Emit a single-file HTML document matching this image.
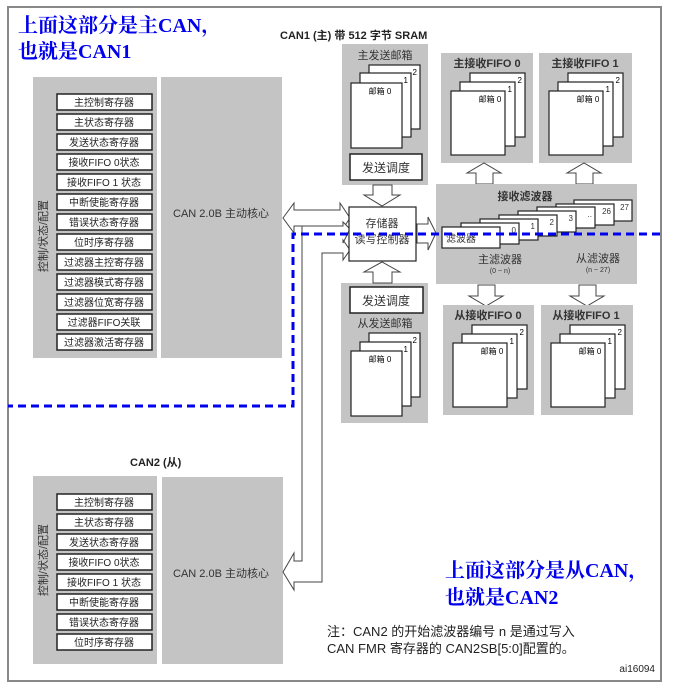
<!DOCTYPE html>
<html><head><meta charset="utf-8"><style>
html,body{margin:0;padding:0;background:#fff;}
svg{display:block;font-family:"Liberation Sans","Noto Sans CJK SC",sans-serif;}
.g{fill:#c4c4c4;}
.w{fill:#fff;stroke:#222;stroke-width:1.2;}
.rb{fill:#fff;stroke:#222;stroke-width:1.5;}
.t{font-size:10px;fill:#222;}
.ar{fill:#fff;stroke:#444;stroke-width:1;}
.bl{font-family:"Liberation Serif","Noto Serif CJK SC",serif;font-weight:bold;font-size:20px;fill:#0000ee;}
</style></head><body>
<svg width="675" height="696" viewBox="0 0 675 696">
<rect x="8" y="7" width="653" height="674" fill="#fff" stroke="#888" stroke-width="2"/>
<text class="bl" x="18" y="32">上面这部分是主CAN，</text>
<text class="bl" x="18" y="58">也就是CAN1</text>
<text x="280" y="39" font-size="11" font-weight="bold" fill="#222">CAN1 (主) 带 512 字节 SRAM</text>

<!-- CAN1 left -->
<rect class="g" x="33" y="77" width="124" height="281"/>
<rect class="g" x="161" y="77" width="121" height="281"/>
<text transform="translate(47,236) rotate(-90)" text-anchor="middle" font-size="11" fill="#333">控制/状态/配置</text>
<g class="t" text-anchor="middle">
<rect class="rb" x="57" y="94" width="95" height="16"/><text x="104" y="106">主控制寄存器</text>
<rect class="rb" x="57" y="114" width="95" height="16"/><text x="104" y="126">主状态寄存器</text>
<rect class="rb" x="57" y="134" width="95" height="16"/><text x="104" y="146">发送状态寄存器</text>
<rect class="rb" x="57" y="154" width="95" height="16"/><text x="104" y="166">接收FIFO 0状态</text>
<rect class="rb" x="57" y="174" width="95" height="16"/><text x="104" y="186">接收FIFO 1 状态</text>
<rect class="rb" x="57" y="194" width="95" height="16"/><text x="104" y="206">中断使能寄存器</text>
<rect class="rb" x="57" y="214" width="95" height="16"/><text x="104" y="226">错误状态寄存器</text>
<rect class="rb" x="57" y="234" width="95" height="16"/><text x="104" y="246">位时序寄存器</text>
<rect class="rb" x="57" y="254" width="95" height="16"/><text x="104" y="266">过滤器主控寄存器</text>
<rect class="rb" x="57" y="274" width="95" height="16"/><text x="104" y="286">过滤器模式寄存器</text>
<rect class="rb" x="57" y="294" width="95" height="16"/><text x="104" y="306">过滤器位宽寄存器</text>
<rect class="rb" x="57" y="314" width="95" height="16"/><text x="104" y="326">过滤器FIFO关联</text>
<rect class="rb" x="57" y="334" width="95" height="16"/><text x="104" y="346">过滤器激活寄存器</text>
</g>
<text x="221" y="217" text-anchor="middle" font-size="11" fill="#333">CAN 2.0B 主动核心</text>

<!-- CAN2 left -->
<text x="130" y="466" font-size="11" font-weight="bold" fill="#222">CAN2 (从)</text>
<rect class="g" x="33" y="476" width="124" height="188"/>
<rect class="g" x="162" y="477" width="121" height="187"/>
<text transform="translate(47,560) rotate(-90)" text-anchor="middle" font-size="11" fill="#333">控制/状态/配置</text>
<g class="t" text-anchor="middle">
<rect class="rb" x="57" y="494" width="95" height="16"/><text x="104" y="506">主控制寄存器</text>
<rect class="rb" x="57" y="514" width="95" height="16"/><text x="104" y="526">主状态寄存器</text>
<rect class="rb" x="57" y="534" width="95" height="16"/><text x="104" y="546">发送状态寄存器</text>
<rect class="rb" x="57" y="554" width="95" height="16"/><text x="104" y="566">接收FIFO 0状态</text>
<rect class="rb" x="57" y="574" width="95" height="16"/><text x="104" y="586">接收FIFO 1 状态</text>
<rect class="rb" x="57" y="594" width="95" height="16"/><text x="104" y="606">中断使能寄存器</text>
<rect class="rb" x="57" y="614" width="95" height="16"/><text x="104" y="626">错误状态寄存器</text>
<rect class="rb" x="57" y="634" width="95" height="16"/><text x="104" y="646">位时序寄存器</text>
</g>
<text x="221" y="577" text-anchor="middle" font-size="11" fill="#333">CAN 2.0B 主动核心</text>

<!-- CAN1 double arrow -->
<polygon class="ar" points="283,218 294,203 294,210 340,210 340,203 350,218 340,233 340,226 294,226 294,233"/>
<!-- CAN2 fat L arrow -->
<polygon class="ar" points="350,229 343,222 343,226 302,226 302,561 294,561 294,553 283,572 294,590 294,582 322,582 322,253 343,253 343,260 350,250 343,240 343,243"/>

<!-- controller -->
<rect class="w" x="349" y="207" width="67" height="54"/>
<text x="382" y="227" text-anchor="middle" font-size="11" fill="#333">存储器</text>
<text x="382" y="243" text-anchor="middle" font-size="11" fill="#333">读写控制器</text>

<!-- master send mailbox -->
<rect class="g" x="342" y="44" width="86" height="141"/>
<text x="385" y="59" text-anchor="middle" font-size="11" fill="#333">主发送邮箱</text>
<rect class="w" x="369" y="65" width="51" height="64"/><text x="417" y="75" font-size="8" text-anchor="end">2</text>
<rect class="w" x="360" y="73" width="51" height="64"/><text x="408" y="83" font-size="8" text-anchor="end">1</text>
<rect class="w" x="351" y="83" width="51" height="65"/><text x="380" y="94" font-size="8" text-anchor="middle">邮箱 0</text>
<rect class="rb" x="350" y="154" width="72" height="26"/>
<text x="386" y="172" text-anchor="middle" font-size="12" fill="#333">发送调度</text>
<polygon class="ar" points="373,185 392,185 392,195 400,195 382,206 364,195 373,195"/>

<!-- slave send mailbox -->
<rect class="g" x="341" y="283" width="87" height="140"/>
<rect class="rb" x="350" y="287" width="73" height="26"/>
<text x="386" y="305" text-anchor="middle" font-size="12" fill="#333">发送调度</text>
<text x="385" y="327" text-anchor="middle" font-size="11" fill="#333">从发送邮箱</text>
<rect class="w" x="369" y="333" width="51" height="64"/><text x="417" y="343" font-size="8" text-anchor="end">2</text>
<rect class="w" x="360" y="342" width="51" height="64"/><text x="408" y="352" font-size="8" text-anchor="end">1</text>
<rect class="w" x="351" y="351" width="51" height="65"/><text x="380" y="362" font-size="8" text-anchor="middle">邮箱 0</text>
<polygon class="ar" points="373,283 392,283 392,272 400,272 382,262 364,272 373,272"/>

<!-- arrow to filter -->
<polygon class="ar" points="417,224 428,224 428,217 436,233 428,250 428,243 417,243"/>

<!-- master FIFOs -->
<rect class="g" x="441" y="53" width="92" height="110"/>
<text x="487" y="67" text-anchor="middle" font-size="11" font-weight="bold" fill="#333">主接收FIFO 0</text>
<rect class="w" x="470" y="73" width="55" height="64"/><text x="522" y="83" font-size="8" text-anchor="end">2</text>
<rect class="w" x="460" y="82" width="55" height="64"/><text x="512" y="92" font-size="8" text-anchor="end">1</text>
<rect class="w" x="451" y="91" width="54" height="64"/><text x="490" y="102" font-size="8" text-anchor="middle">邮箱 0</text>
<rect class="g" x="539" y="53" width="93" height="110"/>
<text x="585" y="67" text-anchor="middle" font-size="11" font-weight="bold" fill="#333">主接收FIFO 1</text>
<rect class="w" x="568" y="73" width="55" height="64"/><text x="620" y="83" font-size="8" text-anchor="end">2</text>
<rect class="w" x="558" y="82" width="55" height="64"/><text x="610" y="92" font-size="8" text-anchor="end">1</text>
<rect class="w" x="549" y="91" width="54" height="64"/><text x="588" y="102" font-size="8" text-anchor="middle">邮箱 0</text>
<polygon class="ar" points="476,184 493,184 493,173 501,173 484,163 467,173 476,173"/>
<polygon class="ar" points="576,184 593,184 593,173 601,173 584,163 567,173 576,173"/>

<!-- filter -->
<rect class="g" x="436" y="184" width="201" height="100"/>
<text x="525" y="200" text-anchor="middle" font-size="11" font-weight="bold" fill="#333">接收滤波器</text>
<g font-size="8" fill="#333" text-anchor="end">
<rect class="w" x="574" y="200" width="58" height="21"/><text x="629" y="210">27</text>
<rect class="w" x="556" y="204" width="58" height="21"/><text x="611" y="214">26</text>
<rect class="w" x="537" y="207" width="58" height="21"/><text x="592" y="217">..</text>
<rect class="w" x="518" y="211" width="58" height="21"/><text x="573" y="221">3</text>
<rect class="w" x="499" y="215" width="58" height="21"/><text x="554" y="225">2</text>
<rect class="w" x="480" y="219" width="58" height="21"/><text x="535" y="229">1</text>
<rect class="w" x="461" y="223" width="58" height="21"/><text x="516" y="233">0</text>
<rect class="w" x="442" y="227" width="58" height="21"/>
</g>
<text x="446" y="242" font-size="10" fill="#333">滤波器</text>
<text x="500" y="263" text-anchor="middle" font-size="11" fill="#333">主滤波器</text>
<text x="500" y="273" text-anchor="middle" font-size="7" fill="#333">(0 ~ n)</text>
<text x="598" y="262" text-anchor="middle" font-size="11" fill="#333">从滤波器</text>
<text x="598" y="272" text-anchor="middle" font-size="7" fill="#333">(n ~ 27)</text>
<polygon class="ar" points="478,285 495,285 495,296 503,296 486,306 469,296 478,296"/>
<polygon class="ar" points="579,285 596,285 596,296 604,296 587,306 570,296 579,296"/>

<!-- slave FIFOs -->
<rect class="g" x="443" y="305" width="91" height="110"/>
<text x="488" y="319" text-anchor="middle" font-size="11" font-weight="bold" fill="#333">从接收FIFO 0</text>
<rect class="w" x="472" y="325" width="55" height="64"/><text x="524" y="335" font-size="8" text-anchor="end">2</text>
<rect class="w" x="462" y="334" width="55" height="64"/><text x="514" y="344" font-size="8" text-anchor="end">1</text>
<rect class="w" x="453" y="343" width="54" height="64"/><text x="492" y="354" font-size="8" text-anchor="middle">邮箱 0</text>
<rect class="g" x="541" y="305" width="92" height="110"/>
<text x="586" y="319" text-anchor="middle" font-size="11" font-weight="bold" fill="#333">从接收FIFO 1</text>
<rect class="w" x="570" y="325" width="55" height="64"/><text x="622" y="335" font-size="8" text-anchor="end">2</text>
<rect class="w" x="560" y="334" width="55" height="64"/><text x="612" y="344" font-size="8" text-anchor="end">1</text>
<rect class="w" x="551" y="343" width="54" height="64"/><text x="590" y="354" font-size="8" text-anchor="middle">邮箱 0</text>

<!-- blue dashed -->
<polyline points="660,234 293,234 293,406 8,406" fill="none" stroke="#0000ee" stroke-width="3" stroke-dasharray="8,5"/>

<text class="bl" x="445" y="577">上面这部分是从CAN，</text>
<text class="bl" x="445" y="604">也就是CAN2</text>
<text x="327" y="636" font-size="13" fill="#222">注：CAN2 的开始滤波器编号 n 是通过写入</text>
<text x="327" y="653" font-size="13" fill="#222">CAN  FMR 寄存器的 CAN2SB[5:0]配置的。</text>
<text x="655" y="672" font-size="10" fill="#222" text-anchor="end">ai16094</text>
</svg>
</body></html>
